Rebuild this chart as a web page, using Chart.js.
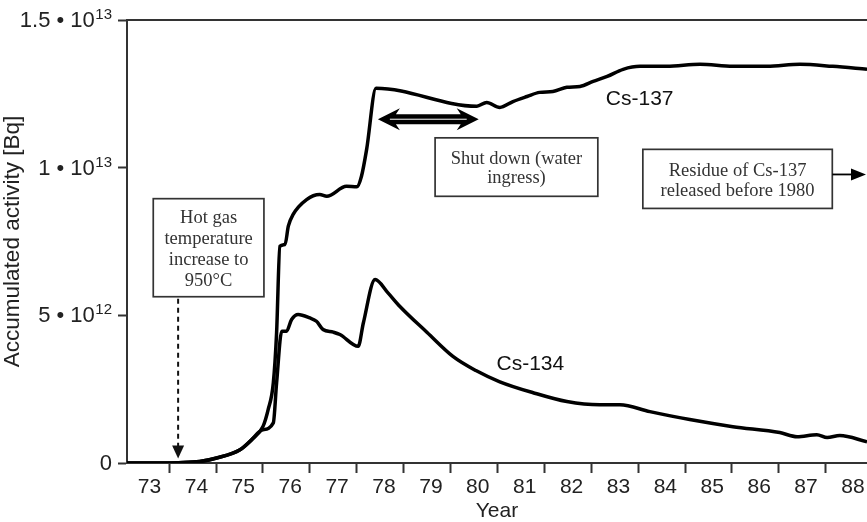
<!DOCTYPE html>
<html>
<head>
<meta charset="utf-8">
<script src="https://cdn.jsdelivr.net/npm/chart.js@4.4.1/dist/chart.umd.min.js"></script>
<style>
  html, body { margin: 0; padding: 0; background: #fff; }
</style>
</head>
<body>
<canvas id="activityChart" width="867" height="522"></canvas>
<script>
// Accumulated activity, values in units of 10^12 Bq
const cs137Years = [73.10, 73.80, 74.20, 74.65, 75.01, 75.51, 75.76, 76.00, 76.11, 76.22, 76.29, 76.36,
  76.47, 76.54, 76.64, 76.93, 77.21, 77.36, 77.78, 78.00, 78.10, 78.21, 78.41, 80.56, 80.77, 81.05,
  81.33, 81.63, 81.90, 82.18, 82.48, 82.76, 83.04, 83.34, 83.68, 84.04, 84.61, 85.32, 86.02, 86.75,
  87.45, 88.15, 88.88];
const cs137Values = [0, 0, 0.01, 0.05, 0.17, 0.45, 0.79, 1.24, 1.81, 2.71, 4.41, 7.34,
  7.40, 8.02, 8.41, 8.92, 9.09, 9.03, 9.37, 9.35, 9.71, 10.62, 12.69, 12.08, 12.21, 12.04,
  12.24, 12.41, 12.55, 12.58, 12.72, 12.75, 12.92, 13.09, 13.33, 13.43, 13.43, 13.50, 13.43, 13.43,
  13.50, 13.43, 13.33];

const cs134Years = [73.10, 73.80, 74.20, 74.65, 75.01, 75.51, 75.76, 75.98, 76.22, 76.29, 76.40, 76.50,
  76.61, 76.75, 77.00, 77.14, 77.28, 77.50, 77.64, 78.03, 78.14, 78.39, 78.66, 78.92, 79.50, 80.05,
  80.54, 81.05, 81.76, 82.48, 83.18, 83.61, 84.25, 85.10, 86.02, 87.02, 87.39, 87.81, 88.03, 88.30,
  88.88];
const cs134Values = [0, 0, 0.01, 0.05, 0.17, 0.45, 0.79, 1.12, 1.36, 2.71, 4.46, 4.46,
  4.86, 5.03, 4.91, 4.80, 4.52, 4.43, 4.35, 3.95, 4.74, 6.21, 5.77, 5.30, 4.42, 3.61,
  3.13, 2.75, 2.38, 2.08, 1.97, 1.97, 1.74, 1.47, 1.23, 1.03, 0.89, 0.96, 0.86, 0.93,
  0.72];

const yearTicks = [74, 75, 76, 77, 78, 79, 80, 81, 82, 83, 84, 85, 86, 87, 88];
const yearLabels = ['73', '74', '75', '76', '77', '78', '79', '80', '81', '82', '83', '84', '85', '86', '87', '88'];
const yTickValues = [0, 5, 10, 15];
const yTickBases = ['0', '5 \u2022 10', '1 \u2022 10', '1.5 \u2022 10'];
const yTickExponents = ['', '12', '13', '13'];

const labelShift = 0.58; // year labels sit inside the year, not on the tick
const toPoints = (xs, ys) => xs.map((x, i) => ({ x: x, y: ys[i] }));

const ink = '#333';
const textInk = '#222';
const sans = '"Liberation Sans", Arial, sans-serif';
const serif = '"Liberation Serif", "Times New Roman", serif';

// y tick labels with real superscript exponents
const yLabelPlugin = {
  id: 'yLabels',
  afterDraw(chart) {
    const { ctx } = chart;
    const y = chart.scales.y;
    const right = y.right - 15;
    ctx.save();
    ctx.fillStyle = textInk;
    ctx.textBaseline = 'middle';
    ctx.textAlign = 'right';
    yTickValues.forEach((v, i) => {
      const py = y.getPixelForValue(v) + 1;
      let x = right;
      if (yTickExponents[i]) {
        ctx.font = '15px ' + sans;
        ctx.fillText(yTickExponents[i], x, py - 6);
        x -= ctx.measureText(yTickExponents[i]).width + 0.5;
      }
      ctx.font = '22px ' + sans;
      ctx.fillText(yTickBases[i], x, py);
    });
    ctx.restore();
  }
};

// annotations, boxes and arrows drawn on top of the plot
const notesPlugin = {
  id: 'notes',
  afterDraw(chart) {
    const { ctx, chartArea } = chart;
    const px = v => chart.scales.x.getPixelForValue(v);
    const py = v => chart.scales.y.getPixelForValue(v);
    ctx.save();

    // top frame line
    ctx.strokeStyle = ink;
    ctx.lineWidth = 2;
    ctx.beginPath();
    ctx.moveTo(chartArea.left, chartArea.top);
    ctx.lineTo(chart.width, chartArea.top);
    ctx.stroke();

    function box(x0, x1, yTop, yBot, lines, lh) {
      const l = px(x0), r = px(x1), t = py(yTop), b = py(yBot);
      ctx.fillStyle = '#fff';
      ctx.fillRect(l, t, r - l, b - t);
      ctx.strokeStyle = ink;
      ctx.lineWidth = 1.7;
      ctx.strokeRect(l, t, r - l, b - t);
      ctx.fillStyle = ink;
      ctx.font = '18.5px ' + serif;
      ctx.textAlign = 'center';
      ctx.textBaseline = 'middle';
      const cx = (l + r) / 2;
      const cy = (t + b) / 2 + 2;
      lines.forEach((s, i) => {
        ctx.fillText(s, cx, cy + (i - (lines.length - 1) / 2) * lh);
      });
      return { l, r, t, b };
    }

    // hot gas box + dashed arrow down to the axis
    const hot = box(73.66, 76.02, 8.95, 5.63, ['Hot gas', 'temperature', 'increase to', '950\u00b0C'], 21);
    const ax = px(74.19);
    const tipY = py(0.15);
    ctx.strokeStyle = '#111';
    ctx.lineWidth = 2;
    ctx.setLineDash([5, 4]);
    ctx.beginPath();
    ctx.moveTo(ax, hot.b + 2);
    ctx.lineTo(ax, tipY - 11);
    ctx.stroke();
    ctx.setLineDash([]);
    ctx.fillStyle = '#111';
    ctx.beginPath();
    ctx.moveTo(ax, tipY);
    ctx.lineTo(ax - 6, tipY - 13);
    ctx.lineTo(ax + 6, tipY - 13);
    ctx.closePath();
    ctx.fill();

    // shut-down double arrow
    const dl = px(78.45), dr = px(80.60), dy = py(11.64);
    const hl = 22, hh = 11, sh = 5;
    ctx.fillStyle = '#000';
    ctx.beginPath();
    ctx.moveTo(dl, dy);
    ctx.lineTo(dl + hl, dy - hh);
    ctx.lineTo(dl + hl - 4, dy - sh);
    ctx.lineTo(dr - hl + 4, dy - sh);
    ctx.lineTo(dr - hl, dy - hh);
    ctx.lineTo(dr, dy);
    ctx.lineTo(dr - hl, dy + hh);
    ctx.lineTo(dr - hl + 4, dy + sh);
    ctx.lineTo(dl + hl - 4, dy + sh);
    ctx.lineTo(dl + hl, dy + hh);
    ctx.closePath();
    ctx.fill();
    ctx.strokeStyle = '#fff';
    ctx.lineWidth = 1;
    ctx.beginPath();
    ctx.moveTo(dl + 12, dy);
    ctx.lineTo(dr - 12, dy);
    ctx.stroke();

    box(79.67, 83.14, 11.01, 9.03, ['Shut down (water', 'ingress)'], 19);

    // residue box with arrow to the right edge
    const res = box(84.10, 88.14, 10.62, 8.62, ['Residue of Cs-137', 'released before 1980'], 20);
    const ry = py(9.77);
    const rEnd = chart.width - 1;
    ctx.strokeStyle = '#000';
    ctx.lineWidth = 1.8;
    ctx.beginPath();
    ctx.moveTo(res.r, ry);
    ctx.lineTo(rEnd - 12, ry);
    ctx.stroke();
    ctx.fillStyle = '#000';
    ctx.beginPath();
    ctx.moveTo(rEnd, ry);
    ctx.lineTo(rEnd - 15, ry - 6);
    ctx.lineTo(rEnd - 15, ry + 6);
    ctx.closePath();
    ctx.fill();

    // series labels
    ctx.fillStyle = '#111';
    ctx.font = '21px ' + sans;
    ctx.textAlign = 'left';
    ctx.textBaseline = 'middle';
    ctx.fillText('Cs-137', px(83.31), py(12.33));
    ctx.fillText('Cs-134', px(80.98), py(3.33));

    ctx.restore();
  }
};

const ctx = document.getElementById('activityChart').getContext('2d');
const chart = new Chart(ctx, {
  type: 'line',
  data: {
    datasets: [
      {
        label: 'Cs-137',
        data: toPoints(cs137Years, cs137Values),
        borderColor: '#000',
        borderWidth: 3.5,
        pointRadius: 0,
        cubicInterpolationMode: 'monotone',
        fill: false
      },
      {
        label: 'Cs-134',
        data: toPoints(cs134Years, cs134Values),
        borderColor: '#000',
        borderWidth: 3.5,
        pointRadius: 0,
        cubicInterpolationMode: 'monotone',
        fill: false
      }
    ]
  },
  options: {
    responsive: false,
    animation: false,
    devicePixelRatio: 1,
    layout: { padding: { top: 20, right: 0, bottom: 0, left: 0 } },
    plugins: {
      legend: { display: false },
      tooltip: { enabled: false }
    },
    scales: {
      x: {
        type: 'linear',
        min: 73.1,
        max: 88.88,
        afterBuildTicks: (scale) => {
          const vals = yearTicks.concat(yearLabels.map((s, i) => 73 + i + labelShift));
          vals.sort((a, b) => a - b);
          scale.ticks = vals.map(v => ({ value: v }));
        },
        afterFit: (scale) => { scale.height = 59; },
        ticks: {
          autoSkip: false,
          maxRotation: 0,
          padding: 2,
          color: textInk,
          font: { family: sans, size: 21 },
          callback: (v) => Number.isInteger(v) ? '' : yearLabels[Math.round(v - labelShift - 73)]
        },
        grid: {
          drawOnChartArea: false,
          tickLength: 10,
          tickWidth: 2,
          tickColor: (c) => (c.tick && Number.isInteger(c.tick.value)) ? ink : 'rgba(0,0,0,0)'
        },
        border: { color: ink, width: 2 },
        title: {
          display: true,
          text: 'Year',
          color: textInk,
          font: { family: sans, size: 21, lineHeight: 1 },
          padding: 0
        }
      },
      y: {
        min: 0,
        max: 15,
        afterBuildTicks: (scale) => {
          scale.ticks = yTickValues.map(v => ({ value: v }));
        },
        afterFit: (scale) => { scale.width = 127; },
        ticks: {
          padding: 5,
          callback: () => ''
        },
        grid: {
          drawOnChartArea: false,
          tickLength: 9,
          tickWidth: 2,
          tickColor: ink
        },
        border: { color: ink, width: 2 },
        title: {
          display: true,
          text: 'Accumulated activity [Bq]',
          color: textInk,
          font: { family: sans, size: 22.5, lineHeight: 1 },
          padding: { top: 2, bottom: 0 }
        }
      }
    }
  },
  plugins: [notesPlugin, yLabelPlugin]
});
</script>
</body>
</html>
